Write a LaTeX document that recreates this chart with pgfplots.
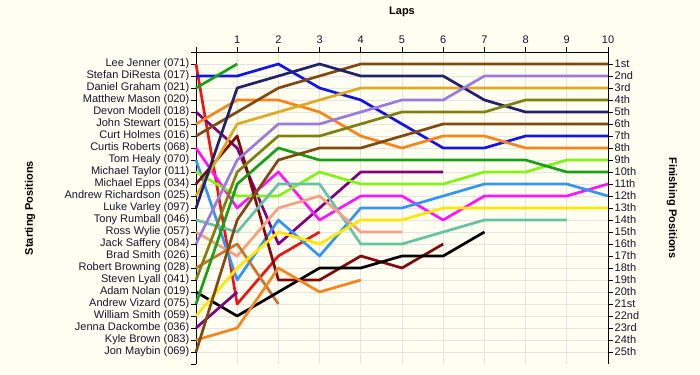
\documentclass[border=0pt]{standalone}
\usepackage{fontspec}
\setmainfont{Liberation Sans}
\usepackage{pgfplots}
\pgfplotsset{compat=1.18}
\definecolor{bg}{HTML}{FFFEF0}
\definecolor{gridc}{HTML}{E4E4E4}
\definecolor{lblc}{HTML}{141432}
\definecolor{cRed}{HTML}{EE1515}
\definecolor{cBlue}{HTML}{1414E6}
\definecolor{cGreen}{HTML}{18A018}
\definecolor{cPurple}{HTML}{800080}
\definecolor{cOrange}{HTML}{FA8419}
\definecolor{cBrown}{HTML}{7F4A12}
\definecolor{cMagenta}{HTML}{FF14FF}
\definecolor{cDodger}{HTML}{3396F5}
\definecolor{cLawn}{HTML}{80F514}
\definecolor{cMaroon}{HTML}{820A0A}
\definecolor{cGold}{HTML}{DDAA22}
\definecolor{cNavy}{HTML}{22226A}
\definecolor{cTeal}{HTML}{66C2A5}
\definecolor{cSalmon}{HTML}{F5A080}
\definecolor{cLav}{HTML}{9A7ADC}
\definecolor{cPeru}{HTML}{C8742E}
\definecolor{cOlive}{HTML}{808010}
\definecolor{cYellow}{HTML}{FFE800}
\begin{document}
\begin{tikzpicture}
\fill[bg] (0,0) rectangle (700bp,375bp);
\begin{axis}[
  at={(196bp,11bp)}, anchor=south west,
  scale only axis, width=412bp, height=312bp,
  xmin=0, xmax=10, ymin=0, ymax=26, y dir=reverse,
  axis x line*=top, axis y line*=left,
  axis line style={black, line width=1bp},
  xtick={0,...,10}, xticklabels={,1,2,3,4,5,6,7,8,9,10},
  ytick={1,...,25},
  yticklabels={Lee Jenner (071),Stefan DiResta (017),Daniel Graham (021),Matthew Mason (020),Devon Modell (018),John Stewart (015),Curt Holmes (016),Curtis Roberts (068),Tom Healy (070),Michael Taylor (011),Michael Epps (034),Andrew Richardson (025),Luke Varley (097),Tony Rumball (046),Ross Wylie (057),Jack Saffery (084),Brad Smith (026),Robert Browning (028),Steven Lyall (041),Adam Nolan (019),Andrew Vizard (075),William Smith (059),Jenna Dackombe (036),Kyle Brown (083),Jon Maybin (069)},
  extra y ticks={0,26}, extra y tick labels={,},
  extra tick style={grid=none},
  tick align=outside, major tick length=5bp,
  tick style={black, line width=0.8bp},
  grid=major, major grid style={gridc, line width=0.8bp},
  ticklabel style={font=\fontsize{11bp}{13bp}\selectfont, text=lblc},
  yticklabel style={inner sep=1.5bp},
  title={\textbf{Laps}},
  title style={at={(axis description cs:0.5,1.109)}, anchor=center, font=\fontsize{11bp}{13bp}\selectfont},
  ylabel={\textbf{Starting Positions}},
  ylabel style={at={(axis description cs:-0.403,0.5)}, anchor=center, font=\fontsize{11bp}{13bp}\selectfont},
  every axis plot/.append style={line width=2.7bp, line join=round, no markers},
  clip=false,
]
\addplot[cRed] coordinates {(0,1)(1,21)(2,17)(3,15)};
\addplot[cBlue] coordinates {(0,2)(1,2)(2,1)(3,3)(4,4)(5,6)(6,8)(7,8)(8,7)(9,7)(10,7)};
\addplot[cGreen] coordinates {(0,3)(1,1)};
\addplot[cPurple] coordinates {(0,5)(1,8)(2,16)(3,13)(4,10)(5,10)(6,10)};
\addplot[cOrange] coordinates {(0,6)(1,4)(2,4)(3,5)(4,7)(5,8)(6,7)(7,7)(8,8)(9,8)(10,8)};
\addplot[cBrown] coordinates {(0,7)(1,5)(2,3)(3,2)(4,1)(5,1)(6,1)(7,1)(8,1)(9,1)(10,1)};
\addplot[cMagenta] coordinates {(0,8)(1,13)(2,10)(3,14)(4,12)(5,12)(6,14)(7,12)(8,12)(9,12)(10,11)};
\addplot[cDodger] coordinates {(0,9)(1,19)(2,14)(3,17)(4,13)(5,13)(6,12)(7,11)(8,11)(9,11)(10,12)};
\addplot[cLawn] coordinates {(0,10)(1,12)(2,12)(3,10)(4,11)(5,11)(6,11)(7,10)(8,10)(9,9)(10,9)};
\addplot[cMaroon] coordinates {(0,11)(1,7)(2,19)(3,19)(4,17)(5,18)(6,16)};
\addplot[cGold] coordinates {(0,12)(1,6)(2,5)(3,4)(4,3)(5,3)(6,3)(7,3)(8,3)(9,3)(10,3)};
\addplot[cNavy] coordinates {(0,13)(1,3)(2,2)(3,1)(4,2)(5,2)(6,2)(7,4)(8,5)(9,5)(10,5)};
\addplot[cTeal] coordinates {(0,14)(1,15)(2,11)(3,11)(4,16)(5,16)(6,15)(7,14)(8,14)(9,14)};
\addplot[cSalmon] coordinates {(0,15)(1,17)(2,13)(3,12)(4,15)(5,15)};
\addplot[cLav] coordinates {(0,16)(1,9)(2,6)(3,6)(4,5)(5,4)(6,4)(7,2)(8,2)(9,2)(10,2)};
\addplot[cPeru] coordinates {(0,18)(1,16)(2,21)};
\addplot[cOlive] coordinates {(0,19)(1,10)(2,7)(3,7)(4,6)(5,5)(6,5)(7,5)(8,4)(9,4)(10,4)};
\addplot[black] coordinates {(0,20)(1,22)(2,20)(3,18)(4,18)(5,17)(6,17)(7,15)};
\addplot[cGreen] coordinates {(0,21)(1,11)(2,8)(3,9)(4,9)(5,9)(6,9)(7,9)(8,9)(9,10)(10,10)};
\addplot[cYellow] coordinates {(0,22)(1,18)(2,15)(3,16)(4,14)(5,14)(6,13)(7,13)(8,13)(9,13)(10,13)};
\addplot[cPurple] coordinates {(0,23)(1,20)};
\addplot[cOrange] coordinates {(0,24)(1,23)(2,18)(3,20)(4,19)};
\addplot[cBrown] coordinates {(0,25)(1,14)(2,9)(3,8)(4,8)(5,7)(6,6)(7,6)(8,6)(9,6)(10,6)};
\end{axis}
\begin{axis}[
  at={(196bp,11bp)}, anchor=south west,
  scale only axis, width=412bp, height=312bp,
  xmin=0, xmax=10, ymin=0, ymax=26, y dir=reverse,
  axis x line=none, axis y line*=right,
  axis line style={black, line width=1bp},
  ytick={1,...,25},
  yticklabels={1st,2nd,3rd,4th,5th,6th,7th,8th,9th,10th,11th,12th,13th,14th,15th,16th,17th,18th,19th,20th,21st,22nd,23rd,24th,25th},
  tick align=outside, major tick length=5bp,
  tick style={black, line width=0.8bp},
  ticklabel style={font=\fontsize{11bp}{13bp}\selectfont, text=lblc},
  yticklabel style={inner sep=1.5bp},
  ylabel={\textbf{Finishing Positions}},
  ylabel style={at={(axis description cs:1.155,0.5)}, anchor=center, rotate=180, font=\fontsize{11bp}{13bp}\selectfont},
]
\end{axis}
\end{tikzpicture}
\end{document}
